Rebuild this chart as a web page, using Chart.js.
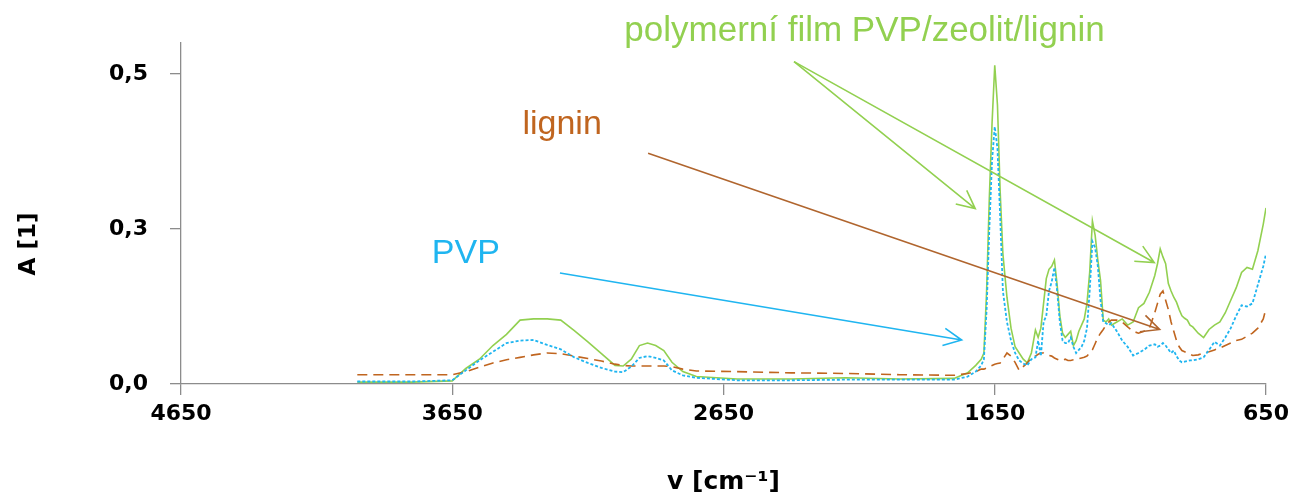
<!DOCTYPE html>
<html>
<head>
<meta charset="utf-8">
<script src="https://cdn.jsdelivr.net/npm/chart.js@4.4.1/dist/chart.umd.min.js"></script>
<style>
  html, body { margin: 0; padding: 0; background: #fff; }
  #wrap { width: 1296px; height: 497px; }
</style>
</head>
<body>
<div id="wrap"><canvas id="myChart" width="1296" height="497"></canvas></div>
<script>
// DATA
const wavenumbers = [4000, 3800, 3650, 3600, 3550, 3500, 3450, 3400, 3350, 3300,
  3250, 3200, 3150, 3100, 3050, 3020, 2990, 2960, 2930, 2900,
  2870, 2840, 2800, 2750, 2600, 2400, 2200, 2000, 1800, 1750,
  1720, 1700, 1690, 1680, 1670, 1660, 1650, 1640, 1630, 1620,
  1605, 1590, 1575, 1560, 1545, 1530, 1515, 1500, 1490, 1480,
  1470, 1460, 1450, 1440, 1430, 1420, 1410, 1400, 1390, 1380,
  1370, 1360, 1350, 1340, 1330, 1320, 1310, 1300, 1290, 1280,
  1270, 1260, 1250, 1240, 1230, 1220, 1200, 1180, 1160, 1140,
  1120, 1100, 1080, 1060, 1050, 1040, 1030, 1020, 1010, 1000,
  990, 980, 970, 960, 950, 940, 930, 920, 900, 880,
  860, 840, 820, 800, 780, 760, 740, 720, 700, 680,
  660, 650];

const filmValues = [0.003, 0.003, 0.005, 0.025, 0.04, 0.062, 0.08, 0.103, 0.105, 0.105,
  0.103, 0.086, 0.068, 0.049, 0.03, 0.029, 0.04, 0.062, 0.066, 0.062,
  0.054, 0.035, 0.02, 0.012, 0.008, 0.008, 0.01, 0.008, 0.009, 0.018,
  0.03, 0.04, 0.05, 0.15, 0.3, 0.42, 0.514, 0.45, 0.31, 0.21,
  0.14, 0.09, 0.06, 0.05, 0.04, 0.034, 0.05, 0.087, 0.075, 0.09,
  0.13, 0.17, 0.185, 0.19, 0.2, 0.16, 0.11, 0.082, 0.075, 0.08,
  0.085, 0.062, 0.07, 0.085, 0.095, 0.105, 0.13, 0.18, 0.263, 0.24,
  0.2, 0.167, 0.103, 0.1, 0.105, 0.095, 0.1, 0.105, 0.095, 0.1,
  0.123, 0.13, 0.148, 0.175, 0.194, 0.218, 0.205, 0.194, 0.162, 0.15,
  0.14, 0.132, 0.12, 0.11, 0.106, 0.103, 0.095, 0.092, 0.082, 0.075,
  0.088, 0.095, 0.1, 0.115, 0.135, 0.155, 0.18, 0.188, 0.185, 0.215,
  0.258, 0.284];

const pvpValues = [0.004, 0.004, 0.006, 0.022, 0.038, 0.052, 0.066, 0.07, 0.071, 0.063,
  0.056, 0.043, 0.034, 0.026, 0.02, 0.019, 0.028, 0.042, 0.045, 0.042,
  0.038, 0.022, 0.014, 0.01, 0.006, 0.006, 0.007, 0.007, 0.007, 0.012,
  0.02, 0.03, 0.04, 0.12, 0.25, 0.36, 0.415, 0.38, 0.27, 0.15,
  0.1, 0.07, 0.05, 0.038, 0.033, 0.03, 0.04, 0.043, 0.07, 0.045,
  0.1, 0.11, 0.15, 0.165, 0.188, 0.15, 0.1, 0.07, 0.066, 0.066,
  0.075, 0.06, 0.05, 0.055, 0.06, 0.07, 0.09, 0.15, 0.23, 0.22,
  0.19, 0.135, 0.1, 0.098, 0.095, 0.098, 0.085, 0.07, 0.06, 0.046,
  0.05, 0.055, 0.062, 0.064, 0.06, 0.062, 0.066, 0.062, 0.056, 0.05,
  0.054, 0.045, 0.038, 0.035, 0.036, 0.037, 0.038, 0.038, 0.04, 0.043,
  0.055, 0.068, 0.062, 0.075, 0.09, 0.11, 0.127, 0.125, 0.13, 0.16,
  0.19, 0.21];

const ligninValues = [0.015, 0.015, 0.015, 0.02, 0.027, 0.034, 0.039, 0.043, 0.047, 0.05,
  0.049, 0.045, 0.041, 0.037, 0.032, 0.03, 0.029, 0.029, 0.029, 0.029,
  0.029, 0.028, 0.024, 0.021, 0.02, 0.018, 0.017, 0.015, 0.014, 0.017,
  0.02, 0.024, 0.024, 0.026, 0.028, 0.03, 0.032, 0.033, 0.034, 0.04,
  0.05, 0.045, 0.035, 0.022, 0.028, 0.034, 0.042, 0.045, 0.048, 0.05,
  0.05, 0.048, 0.046, 0.045, 0.042, 0.04, 0.038, 0.038, 0.04, 0.038,
  0.038, 0.039, 0.04, 0.041, 0.042, 0.043, 0.045, 0.05, 0.055, 0.065,
  0.075, 0.082, 0.088, 0.095, 0.1, 0.103, 0.103, 0.1, 0.092, 0.085,
  0.082, 0.085, 0.09, 0.115, 0.13, 0.145, 0.15, 0.135, 0.12, 0.1,
  0.085, 0.07, 0.06, 0.054, 0.052, 0.05, 0.048, 0.046, 0.047, 0.05,
  0.052, 0.055, 0.058, 0.062, 0.066, 0.07, 0.072, 0.077, 0.082, 0.09,
  0.105, 0.122];

const xTicks = [4650, 3650, 2650, 1650, 650];
const xTickLabels = ["4650", "3650", "2650", "1650", "650"];
const yTicks = [0, 0.25, 0.5];
const yTickLabels = ["0,0", "0,3", "0,5"];

// popisky a sipky (v souradnicich grafu)
const labels = [
  { text: "polymerní film PVP/zeolit/lignin", x: 2130, y: 0.568, color: "#92D050", size: 35 },
  { text: "lignin", x: 3245, y: 0.418, color: "#C0651F", size: 34 },
  { text: "PVP", x: 3600, y: 0.21, color: "#1FB5F0", size: 34 },
];
const arrows = [
  { from: [2390, 0.52], to: [1722, 0.283], color: "#92D050" },
  { from: [2390, 0.52], to: [1062, 0.196], color: "#92D050" },
  { from: [2928, 0.372], to: [1042, 0.088], color: "#B0652E" },
  { from: [3253, 0.179], to: [1772, 0.071], color: "#1FB5F0" },
];

//FUNCIONES
function toPoints(vals) {
  return vals.map((v, i) => ({ x: wavenumbers[i], y: v }));
}

const annotationPlugin = {
  id: "poznamky",
  afterDatasetsDraw(chart) {
    const ctx = chart.ctx;
    const sx = chart.scales.x;
    const sy = chart.scales.y;
    ctx.save();
    arrows.forEach((a) => {
      const x1 = sx.getPixelForValue(a.from[0]);
      const y1 = sy.getPixelForValue(a.from[1]);
      const x2 = sx.getPixelForValue(a.to[0]);
      const y2 = sy.getPixelForValue(a.to[1]);
      const ang = Math.atan2(y2 - y1, x2 - x1);
      ctx.strokeStyle = a.color;
      ctx.lineWidth = 1.6;
      ctx.beginPath();
      ctx.moveTo(x1, y1);
      ctx.lineTo(x2, y2);
      ctx.moveTo(x2 - 20 * Math.cos(ang - 0.45), y2 - 20 * Math.sin(ang - 0.45));
      ctx.lineTo(x2, y2);
      ctx.lineTo(x2 - 20 * Math.cos(ang + 0.45), y2 - 20 * Math.sin(ang + 0.45));
      ctx.stroke();
    });
    ctx.textAlign = "center";
    ctx.textBaseline = "middle";
    labels.forEach((l) => {
      ctx.font = l.size + "px 'Liberation Sans', Arial, sans-serif";
      ctx.fillStyle = l.color;
      ctx.fillText(l.text, sx.getPixelForValue(l.x), sy.getPixelForValue(l.y));
    });
    // popisek osy y
    ctx.translate(29, 244);
    ctx.rotate(-Math.PI / 2);
    ctx.font = "bold 23px 'DejaVu Sans', sans-serif";
    ctx.fillStyle = "#000";
    ctx.fillText("A [1]", 0, 0);
    ctx.restore();
  },
};

const data = {
  datasets: [
    {
      label: "polymerní film PVP/zeolit/lignin",
      data: toPoints(filmValues),
      borderColor: "#92D050",
      borderWidth: 1.6,
      order: 3,
    },
    {
      label: "lignin",
      data: toPoints(ligninValues),
      borderColor: "#C0651F",
      borderWidth: 1.6,
      borderDash: [10, 6],
      order: 2,
    },
    {
      label: "PVP",
      data: toPoints(pvpValues),
      borderColor: "#1FB5F0",
      borderWidth: 1.8,
      borderDash: [3, 2],
      order: 1,
    },
  ],
};

const tickFont = { family: "'DejaVu Sans', sans-serif", size: 22, weight: "bold" };

const config = {
  type: "line",
  data: data,
  plugins: [annotationPlugin],
  options: {
    responsive: false,
    animation: false,
    elements: { point: { radius: 0 }, line: { tension: 0, fill: false } },
    layout: { padding: { top: 43, right: 30, left: 0, bottom: 0 } },
    plugins: {
      legend: { display: false },
      tooltip: { enabled: false },
    },
    scales: {
      x: {
        type: "linear",
        reverse: true,
        min: 650,
        max: 4650,
        afterBuildTicks: (s) => { s.ticks = xTicks.map((v) => ({ value: v })); },
        afterFit: (s) => { s.height = 113; },
        grid: { drawOnChartArea: false, drawTicks: true, tickLength: 11, color: "#8C8C8C", lineWidth: 1.3 },
        border: { display: true, color: "#8C8C8C", width: 1.3 },
        ticks: {
          color: "#000",
          font: tickFont,
          padding: 6,
          maxRotation: 0,
          autoSkip: false,
          callback: (v) => xTickLabels[xTicks.indexOf(v)],
        },
        title: {
          display: true,
          text: "v [cm⁻¹]",
          color: "#000",
          font: { family: "'DejaVu Sans', sans-serif", size: 25, weight: "bold" },
          padding: { top: 18, bottom: 0 },
        },
      },
      y: {
        min: 0,
        max: 0.55,
        afterBuildTicks: (s) => { s.ticks = yTicks.map((v) => ({ value: v })); },
        afterFit: (s) => { s.width = 181; },
        grid: { drawOnChartArea: false, drawTicks: true, tickLength: 11, color: "#8C8C8C", lineWidth: 1.3 },
        border: { display: true, color: "#8C8C8C", width: 1.3 },
        ticks: {
          color: "#000",
          font: tickFont,
          padding: 22,
          callback: (v) => yTickLabels[yTicks.indexOf(v)],
        },
        title: { display: false },
      },
    },
  },
};

const myChart = new Chart(document.getElementById("myChart"), config);
</script>
</body>
</html>
